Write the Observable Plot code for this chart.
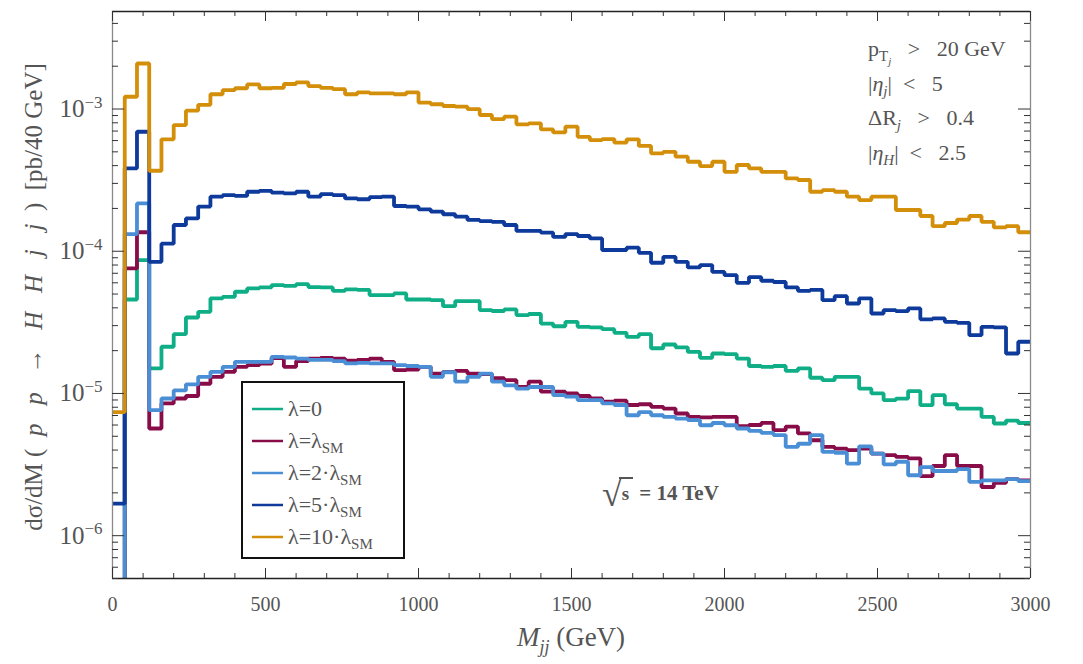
<!DOCTYPE html>
<html>
<head>
<meta charset="utf-8">
<script src="https://cdn.jsdelivr.net/npm/d3@7"></script>
<script src="https://cdn.jsdelivr.net/npm/@observablehq/plot@0.6"></script>
<style>
  body { margin: 0; background: #fff; }
  #chart { width: 1083px; height: 664px; }
  #chart svg { display: block; }
</style>
</head>
<body>
<div id="chart"></div>
<script>
// Binned dσ/dM for pp → HHjj at √s = 14 TeV, 40 GeV bins from 0 to 3000 GeV.
// A value of 0 marks an empty bin.
const binWidth = 40;
const massMax = 3000;

const seriesKeys = ["zero", "sm", "twoSM", "fiveSM", "tenSM"];
const legendMain = ["λ=0", "λ=λ", "λ=2·λ", "λ=5·λ", "λ=10·λ"];
const legendSub = ["", "SM", "SM", "SM", "SM"];
const seriesColors = ["#0fae86", "#880c48", "#4a8fd6", "#0d3a9b", "#d48f0a"];

const lambdaZero = [
  0, 4.58e-5, 8.67e-5, 1.50e-5, 2.13e-5, 2.61e-5, 3.42e-5, 3.75e-5, 4.66e-5, 4.78e-5,
  5.19e-5, 5.48e-5, 5.57e-5, 5.78e-5, 5.70e-5, 5.87e-5, 5.60e-5, 5.57e-5, 5.27e-5, 5.40e-5,
  5.35e-5, 4.92e-5, 4.92e-5, 5.05e-5, 4.58e-5, 4.58e-5, 4.53e-5, 4.11e-5, 4.46e-5, 4.46e-5,
  3.86e-5, 3.80e-5, 3.90e-5, 3.56e-5, 3.62e-5, 3.10e-5, 2.97e-5, 3.19e-5, 2.94e-5, 2.92e-5,
  2.83e-5, 2.67e-5, 2.50e-5, 2.61e-5, 2.08e-5, 2.21e-5, 2.11e-5, 1.96e-5, 1.78e-5, 1.91e-5,
  1.89e-5, 1.76e-5, 1.56e-5, 1.54e-5, 1.56e-5, 1.44e-5, 1.50e-5, 1.29e-5, 1.24e-5, 1.31e-5,
  1.31e-5, 1.08e-5, 1.00e-5, 8.97e-6, 9.20e-6, 1.04e-5, 8.28e-6, 9.73e-6, 8.40e-6, 7.83e-6,
  7.83e-6, 6.84e-6, 6.15e-6, 6.45e-6, 6.20e-6
];
const lambdaSM = [
  0, 7.57e-5, 1.36e-4, 5.67e-6, 8.51e-6, 9.22e-6, 9.60e-6, 1.17e-5, 1.31e-5, 1.42e-5,
  1.54e-5, 1.58e-5, 1.62e-5, 1.77e-5, 1.54e-5, 1.69e-5, 1.76e-5, 1.78e-5, 1.76e-5, 1.70e-5,
  1.72e-5, 1.76e-5, 1.67e-5, 1.46e-5, 1.47e-5, 1.54e-5, 1.38e-5, 1.42e-5, 1.44e-5, 1.38e-5,
  1.37e-5, 1.28e-5, 1.24e-5, 1.11e-5, 1.21e-5, 1.03e-5, 1.03e-5, 1.00e-5, 9.60e-6, 9.22e-6,
  8.75e-6, 8.90e-6, 8.30e-6, 8.40e-6, 8.05e-6, 7.83e-6, 7.23e-6, 6.84e-6, 6.78e-6, 6.84e-6,
  6.84e-6, 5.89e-6, 6.00e-6, 6.21e-6, 5.52e-6, 5.85e-6, 5.24e-6, 4.69e-6, 4.21e-6, 4.10e-6,
  3.99e-6, 4.10e-6, 3.78e-6, 3.68e-6, 3.58e-6, 3.50e-6, 2.62e-6, 3.09e-6, 3.68e-6, 3.09e-6,
  3.09e-6, 2.20e-6, 2.35e-6, 2.50e-6, 2.45e-6
];
const lambdaTwoSM = [
  0, 1.32e-4, 2.17e-4, 7.64e-6, 9.22e-6, 1.05e-5, 1.16e-5, 1.31e-5, 1.42e-5, 1.54e-5,
  1.67e-5, 1.67e-5, 1.67e-5, 1.81e-5, 1.79e-5, 1.76e-5, 1.72e-5, 1.72e-5, 1.69e-5, 1.63e-5,
  1.64e-5, 1.63e-5, 1.63e-5, 1.58e-5, 1.56e-5, 1.54e-5, 1.31e-5, 1.41e-5, 1.21e-5, 1.31e-5,
  1.38e-5, 1.21e-5, 1.14e-5, 1.08e-5, 1.11e-5, 1.11e-5, 9.72e-6, 9.50e-6, 8.97e-6, 8.97e-6,
  8.52e-6, 8.30e-6, 7.03e-6, 7.40e-6, 7.03e-6, 6.84e-6, 6.66e-6, 6.49e-6, 5.98e-6, 6.20e-6,
  5.98e-6, 5.67e-6, 5.45e-6, 5.28e-6, 5.10e-6, 4.21e-6, 4.43e-6, 5.10e-6, 3.88e-6, 3.83e-6,
  3.21e-6, 4.25e-6, 3.78e-6, 3.17e-6, 3.31e-6, 2.66e-6, 3.03e-6, 2.85e-6, 2.85e-6, 2.94e-6,
  2.39e-6, 2.45e-6, 2.45e-6, 2.50e-6, 2.42e-6
];
const lambdaFiveSM = [
  1.68e-6, 3.83e-4, 6.92e-4, 8.43e-5, 1.13e-4, 1.53e-4, 1.70e-4, 2.06e-4, 2.42e-4, 2.48e-4,
  2.45e-4, 2.62e-4, 2.66e-4, 2.58e-4, 2.55e-4, 2.62e-4, 2.42e-4, 2.52e-4, 2.48e-4, 2.35e-4,
  2.32e-4, 2.40e-4, 2.42e-4, 2.08e-4, 2.06e-4, 1.97e-4, 1.90e-4, 1.82e-4, 1.75e-4, 1.66e-4,
  1.63e-4, 1.61e-4, 1.53e-4, 1.39e-4, 1.39e-4, 1.35e-4, 1.26e-4, 1.32e-4, 1.28e-4, 1.23e-4,
  1.02e-4, 1.02e-4, 1.06e-4, 9.75e-5, 8.30e-5, 9.14e-5, 8.43e-5, 7.69e-5, 7.99e-5, 7.16e-5,
  6.79e-5, 6.00e-5, 6.58e-5, 6.20e-5, 6.08e-5, 5.57e-5, 5.27e-5, 5.35e-5, 4.53e-5, 4.83e-5,
  4.29e-5, 4.66e-5, 3.65e-5, 3.86e-5, 3.79e-5, 3.96e-5, 3.32e-5, 3.37e-5, 3.19e-5, 3.14e-5,
  2.57e-5, 2.94e-5, 2.92e-5, 1.91e-5, 2.31e-5
];
const lambdaTenSM = [
  7.40e-6, 1.22e-3, 2.09e-3, 3.68e-4, 6.12e-4, 7.71e-4, 9.73e-4, 1.07e-3, 1.27e-3, 1.36e-3,
  1.40e-3, 1.49e-3, 1.40e-3, 1.41e-3, 1.50e-3, 1.54e-3, 1.45e-3, 1.41e-3, 1.38e-3, 1.27e-3,
  1.31e-3, 1.29e-3, 1.29e-3, 1.27e-3, 1.31e-3, 1.11e-3, 1.08e-3, 1.05e-3, 1.04e-3, 1.00e-3,
  9.08e-4, 8.50e-4, 8.83e-4, 7.80e-4, 7.93e-4, 7.19e-4, 6.85e-4, 7.51e-4, 6.38e-4, 6.05e-4,
  6.15e-4, 5.80e-4, 6.12e-4, 5.50e-4, 4.88e-4, 5.00e-4, 4.62e-4, 4.26e-4, 3.97e-4, 4.26e-4,
  3.62e-4, 4.04e-4, 3.83e-4, 3.62e-4, 3.62e-4, 3.25e-4, 3.17e-4, 2.62e-4, 2.69e-4, 2.62e-4,
  2.42e-4, 2.29e-4, 2.42e-4, 2.42e-4, 1.95e-4, 1.95e-4, 1.77e-4, 1.50e-4, 1.58e-4, 1.67e-4,
  1.77e-4, 1.61e-4, 1.47e-4, 1.50e-4, 1.36e-4
];

// Axis ticks
const xTickValues = [0, 500, 1000, 1500, 2000, 2500, 3000];
const yTickValues = [1e-6, 1e-5, 1e-4, 1e-3];
const yDomain = [5e-7, 4.85e-3];

// Selection cuts (text, style) drawn top right
const cutLines = [
  [["p", ""], ["T", "sub"], ["j", "subsub"], [" \u2002>\u2002 20 GeV", ""]],
  [["|", ""], ["η", "it"], ["j", "subit"], ["|\u2002<\u2002 5", ""]],
  [["ΔR", ""], ["j", "subit"], [" \u2002>\u2002 0.4", ""]],
  [["|", ""], ["η", "it"], ["H", "subit"], ["|\u2002<\u2002 2.5", ""]]
];

const seriesValues = [lambdaZero, lambdaSM, lambdaTwoSM, lambdaFiveSM, lambdaTenSM];

// Empty bins are drawn below the visible range so the step drops off the frame.
const floorValue = yDomain[0] / 100;
const rows = [];
seriesKeys.forEach((key, s) => {
  const vals = seriesValues[s];
  vals.forEach((v, i) => rows.push({series: key, m: i * binWidth, v: v > 0 ? v : floorValue}));
  const last = vals[vals.length - 1];
  rows.push({series: key, m: massMax, v: last > 0 ? last : floorValue});
});

const xMinor = d3.range(0, massMax + 1, 100).filter(d => d % 500 !== 0);
const yMinor = [];
for (let e = -7; e <= -3; e++) for (let k = 2; k <= 9; k++) {
  const v = k * Math.pow(10, e);
  if (v >= yDomain[0] && v <= yDomain[1]) yMinor.push(v);
}

const W = 1083, H = 664;
const mL = 112, mR = 53, mT = 11, mB = 86;
const frameW = W - mL - mR, frameH = H - mT - mB;

const tickColor = "#333";
const labelColor = "#555";
const serif = "'Liberation Serif', 'DejaVu Serif', serif";

// Inward tick marks: tick lengths in pixels converted to the data units of each scale.
const gevPerPx = massMax / frameW;
const decadesPerPx = Math.log10(yDomain[1] / yDomain[0]) / frameH;
const xTicks = (values, len, side) => {
  const f = Math.pow(10, len * decadesPerPx);
  return Plot.ruleX(values, side === "bottom"
    ? {x: d => d, y1: yDomain[0], y2: yDomain[0] * f, stroke: tickColor, strokeWidth: 1}
    : {x: d => d, y1: yDomain[1] / f, y2: yDomain[1], stroke: tickColor, strokeWidth: 1});
};
const yTicks = (values, len, side) => {
  const d = len * gevPerPx;
  return Plot.ruleY(values, side === "left"
    ? {y: v => v, x1: 0, x2: d, stroke: tickColor, strokeWidth: 1}
    : {y: v => v, x1: massMax - d, x2: massMax, stroke: tickColor, strokeWidth: 1});
};

const plot = Plot.plot({
  width: W,
  height: H,
  marginLeft: mL,
  marginRight: mR,
  marginTop: mT,
  marginBottom: mB,
  style: {fontFamily: serif, background: "#fff", color: labelColor},
  x: {domain: [0, massMax]},
  y: {type: "log", domain: yDomain},
  color: {domain: seriesKeys, range: seriesColors},
  marks: [
    Plot.lineY(rows, {
      x: "m", y: "v", z: "series", stroke: "series",
      curve: "step-after", strokeWidth: 3.8, strokeLinejoin: "miter", strokeLinecap: "butt",
      clip: true
    }),
    // frame: grey sides, dark top and bottom
    Plot.ruleX([0, massMax], {stroke: "#8a8a8a", strokeWidth: 1.3}),
    Plot.ruleY(yDomain, {stroke: "#222", strokeWidth: 1.3}),
    // inward ticks on all four sides
    xTicks(xTickValues, 10, "bottom"),
    xTicks(xMinor, 5, "bottom"),
    xTicks(xTickValues, 10, "top"),
    xTicks(xMinor, 5, "top"),
    yTicks(yTickValues, 12, "left"),
    yTicks(yMinor, 6, "left"),
    yTicks(yTickValues, 12, "right"),
    yTicks(yMinor, 6, "right"),
    // tick labels
    Plot.axisX(xTickValues, {anchor: "bottom", tickSize: 0, tickPadding: 18, label: null,
      tickFormat: d => String(d), fontSize: 20, fill: labelColor}),
    Plot.axisY(yTickValues, {anchor: "left", tickSize: 0, tickPadding: 10, label: null,
      tickFormat: d => "10^" + Math.round(Math.log10(d)), fontSize: 25, fill: labelColor})
  ]
});

document.getElementById("chart").appendChild(plot);

const svg = d3.select(plot);
const xs = plot.scale("x");

// Superscript exponents on the y tick labels
svg.selectAll('g[aria-label="y-axis tick label"] text').each(function () {
  const t = d3.select(this);
  const [base, exp] = t.text().split("^");
  t.text("");
  t.append("tspan").text(base);
  t.append("tspan").attr("dy", "-0.55em").attr("font-size", "0.68em").text(exp.replace("-", "−"));
});

const overlay = svg.append("g").attr("font-family", serif).attr("fill", labelColor)
  .attr("text-anchor", "start").style("white-space", "pre");

// y-axis title
const yTitle = overlay.append("text")
  .attr("transform", `translate(42, 297) rotate(-90)`)
  .attr("text-anchor", "middle").attr("font-size", 25);
yTitle.append("tspan").text("dσ/dM (  ");
yTitle.append("tspan").attr("font-style", "italic").text("p   p");
yTitle.append("tspan").text("   →   ");
yTitle.append("tspan").attr("font-style", "italic").text("H   H   j   j");
yTitle.append("tspan").text("  )  [pb/40 GeV]");

// x-axis title
const xTitle = overlay.append("text")
  .attr("x", (xs.apply(0) + xs.apply(massMax)) / 2).attr("y", 646)
  .attr("text-anchor", "middle").attr("font-size", 27);
xTitle.append("tspan").attr("font-style", "italic").text("M");
xTitle.append("tspan").attr("font-style", "italic").attr("font-size", 18).attr("dy", 7).text("jj");
xTitle.append("tspan").attr("dy", -7).text(" (GeV)");

// Selection cuts, top right
cutLines.forEach((parts, i) => {
  const t = overlay.append("text").attr("x", 868).attr("y", 56 + i * 34.5).attr("font-size", 22);
  let shift = 0;
  parts.forEach(([str, kind]) => {
    const sp = t.append("tspan").text(str);
    let target = 0;
    if (kind === "sub" || kind === "subit") target = 5;
    if (kind === "subsub") target = 9;
    if (kind === "it" || kind === "subit" || kind === "subsub") sp.attr("font-style", "italic");
    if (kind === "sub" || kind === "subit") sp.attr("font-size", 15);
    if (kind === "subsub") sp.attr("font-size", 11);
    sp.attr("dy", target - shift);
    shift = target;
  });
});

// √s label
const sx = 602, sy = 500;
const sq = overlay.append("text").attr("x", sx).attr("y", sy).attr("font-weight", "bold").attr("font-size", 21);
sq.append("tspan").attr("font-size", 36).attr("font-weight", "normal").attr("dy", 6).text("√");
sq.append("tspan").attr("dy", -6).attr("font-size", 19).text("s");
sq.append("tspan").attr("dx", 10).text("= 14 TeV");
overlay.append("line")
  .attr("x1", sx + 17).attr("x2", sx + 31).attr("y1", sy - 22).attr("y2", sy - 22)
  .attr("stroke", labelColor).attr("stroke-width", 2);

// Legend box
const lg = overlay.append("g").attr("transform", "translate(242, 382)");
lg.append("rect").attr("width", 162).attr("height", 176)
  .attr("fill", "#fff").attr("stroke", "#111").attr("stroke-width", 2);
seriesKeys.forEach((key, i) => {
  const cy = 27 + i * 32;
  lg.append("line").attr("x1", 10).attr("x2", 41).attr("y1", cy).attr("y2", cy)
    .attr("stroke", seriesColors[i]).attr("stroke-width", 2.5);
  const t = lg.append("text").attr("x", 46).attr("y", cy + 7).attr("font-size", 22);
  t.append("tspan").text(legendMain[i]);
  if (legendSub[i]) t.append("tspan").attr("font-size", 15).attr("dy", 5).text(legendSub[i]);
});
</script>
</body>
</html>
